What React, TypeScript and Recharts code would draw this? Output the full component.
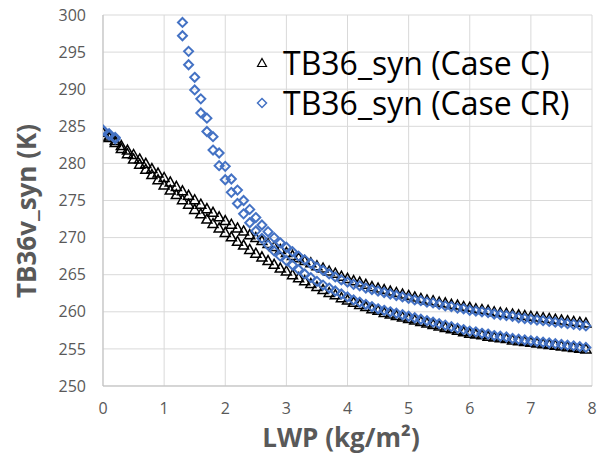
import { ScatterChart, Scatter, XAxis, YAxis, CartesianGrid, Legend, Label } from 'recharts';

// LWP grid (kg/m2) for Case C, both branches
const lwpC = [
  0, 0.1, 0.2, 0.3, 0.4, 0.5, 0.6, 0.7, 0.8, 0.9,
  1, 1.1, 1.2, 1.3, 1.4, 1.5, 1.6, 1.7, 1.8, 1.9,
  2, 2.1, 2.2, 2.3, 2.4, 2.5, 2.6, 2.7, 2.8, 2.9,
  3, 3.1, 3.2, 3.3, 3.4, 3.5, 3.6, 3.7, 3.8, 3.9,
  4, 4.1, 4.2, 4.3, 4.4, 4.5, 4.6, 4.7, 4.8, 4.9,
  5, 5.1, 5.2, 5.3, 5.4, 5.5, 5.6, 5.7, 5.8, 5.9,
  6, 6.1, 6.2, 6.3, 6.4, 6.5, 6.6, 6.7, 6.8, 6.9,
  7, 7.1, 7.2, 7.3, 7.4, 7.5, 7.6, 7.7, 7.8, 7.9,
];

const tbCUpper = [
  284.3, 283.7, 283.1, 282.4, 281.8, 281.2, 280.6, 280.0, 279.3, 278.7,
  278.1, 277.5, 276.9, 276.3, 275.7, 275.1, 274.5, 273.9, 273.4, 272.8,
  272.3, 271.8, 271.3, 270.9, 270.4, 270.0, 269.6, 269.2, 268.8, 268.4,
  268.0, 267.6, 267.3, 266.9, 266.6, 266.2, 265.9, 265.5, 265.2, 264.8,
  264.5, 264.2, 264.0, 263.7, 263.4, 263.2, 263.0, 262.8, 262.6, 262.4,
  262.2, 262.0, 261.8, 261.6, 261.5, 261.3, 261.2, 261.0, 260.9, 260.7,
  260.6, 260.4, 260.3, 260.2, 260.0, 259.9, 259.8, 259.7, 259.6, 259.5,
  259.4, 259.3, 259.2, 259.1, 259.0, 258.9, 258.8, 258.7, 258.6, 258.5,
];

const tbCLower = [
  284.2, 283.5, 282.8, 282.0, 281.3, 280.6, 279.9, 279.2, 278.5, 277.8,
  277.1, 276.4, 275.8, 275.1, 274.5, 273.8, 273.2, 272.5, 271.9, 271.3,
  270.7, 270.1, 269.5, 269.0, 268.4, 267.9, 267.4, 266.9, 266.4, 265.9,
  265.5, 265.0, 264.6, 264.2, 263.8, 263.4, 263.0, 262.6, 262.3, 261.9,
  261.6, 261.3, 261.0, 260.7, 260.4, 260.2, 259.9, 259.7, 259.5, 259.3,
  259.1, 258.9, 258.7, 258.5, 258.3, 258.1, 257.9, 257.7, 257.5, 257.3,
  257.1, 257.0, 256.9, 256.7, 256.6, 256.5, 256.4, 256.2, 256.1, 256.0,
  255.9, 255.8, 255.7, 255.6, 255.5, 255.4, 255.3, 255.2, 255.1, 255.0,
];

// Case CR: points between 0.3 and 1.2 lie above 300 K and are off the chart
const lwpCR = [
  0, 0.1, 0.2,
  1.3, 1.4, 1.5, 1.6, 1.7, 1.8, 1.9,
  2, 2.1, 2.2, 2.3, 2.4, 2.5, 2.6, 2.7, 2.8, 2.9,
  3, 3.1, 3.2, 3.3, 3.4, 3.5, 3.6, 3.7, 3.8, 3.9,
  4, 4.1, 4.2, 4.3, 4.4, 4.5, 4.6, 4.7, 4.8, 4.9,
  5, 5.1, 5.2, 5.3, 5.4, 5.5, 5.6, 5.7, 5.8, 5.9,
  6, 6.1, 6.2, 6.3, 6.4, 6.5, 6.6, 6.7, 6.8, 6.9,
  7, 7.1, 7.2, 7.3, 7.4, 7.5, 7.6, 7.7, 7.8, 7.9,
];

const tbCRUpper = [
  284.5, 284.0, 283.5,
  299.0, 295.1, 291.6, 288.7, 286.1, 283.6, 281.4,
  279.6, 277.9, 276.4, 275.0, 273.8, 272.7, 271.7, 270.8, 270.0, 269.3,
  268.7, 268.1, 267.5, 267.0, 266.5, 266.0, 265.6, 265.1, 264.7, 264.3,
  264.0, 263.7, 263.5, 263.2, 263.0, 262.8, 262.6, 262.4, 262.2, 262.0,
  261.8, 261.6, 261.5, 261.3, 261.2, 261.0, 260.8, 260.7, 260.5, 260.4,
  260.2, 260.1, 260.0, 259.9, 259.7, 259.6, 259.5, 259.4, 259.2, 259.1,
  259.0, 258.9, 258.8, 258.7, 258.6, 258.5, 258.4, 258.3, 258.2, 258.1,
];

const tbCRLower = [
  284.4, 283.8, 283.3,
  297.2, 293.3, 289.9, 286.8, 284.3, 281.8, 279.7,
  277.8, 276.1, 274.6, 273.2, 272.0, 270.9, 269.9, 269.0, 268.2, 267.5,
  266.9, 266.3, 265.7, 265.1, 264.6, 264.1, 263.6, 263.2, 262.8, 262.4,
  262.0, 261.6, 261.3, 261.0, 260.7, 260.4, 260.2, 260.0, 259.8, 259.6,
  259.4, 259.2, 259.0, 258.8, 258.6, 258.4, 258.2, 258.0, 257.8, 257.6,
  257.4, 257.3, 257.1, 257.0, 256.8, 256.7, 256.6, 256.4, 256.3, 256.2,
  256.1, 256.0, 255.9, 255.8, 255.7, 255.6, 255.5, 255.4, 255.3, 255.2,
];

const xTicks = [0, 1, 2, 3, 4, 5, 6, 7, 8];
const yTicks = [250, 255, 260, 265, 270, 275, 280, 285, 290, 295, 300];

const seriesNames = ['TB36_syn (Case C)', 'TB36_syn (Case CR)'];

const toPoints = (xs: number[], ys: number[]) => xs.map((x, i) => ({ x, y: ys[i] }));

const caseCUpper = toPoints(lwpC, tbCUpper);
const caseCLower = toPoints(lwpC, tbCLower);
const caseCRUpper = toPoints(lwpCR, tbCRUpper);
const caseCRLower = toPoints(lwpCR, tbCRLower);

const BLUE = '#4472C4';
const GREY = '#595959';

const Triangle = (props: any) => {
  const { cx, cy } = props;
  if (cx == null || cy == null) return null;
  return (
    <path
      d={`M${cx},${cy - 5}L${cx + 5},${cy + 4}L${cx - 5},${cy + 4}Z`}
      fill="none"
      stroke="#000"
      strokeWidth={1.5}
    />
  );
};

const Diamond = (props: any) => {
  const { cx, cy } = props;
  if (cx == null || cy == null) return null;
  return (
    <path
      d={`M${cx},${cy - 4.5}L${cx + 4.5},${cy}L${cx},${cy + 4.5}L${cx - 4.5},${cy}Z`}
      fill="none"
      stroke={BLUE}
      strokeWidth={2}
    />
  );
};

const renderLegend = () => (
  <div style={{ fontFamily: 'Open Sans', fontSize: 32, color: '#000' }}>
    {seriesNames.map((name, i) => (
      <div key={name} style={{ display: 'flex', alignItems: 'center', height: 40 }}>
        <svg width={20} height={20} style={{ marginRight: 11 }}>
          {i === 0 ? (
            <path d="M10,5.5L14.5,13.5L5.5,13.5Z" fill="none" stroke="#000" strokeWidth={1.2} />
          ) : (
            <path d="M10,5.5L14.5,10L10,14.5L5.5,10Z" fill="none" stroke={BLUE} strokeWidth={1.5} />
          )}
        </svg>
        <span style={{ whiteSpace: 'nowrap', lineHeight: '40px' }}>{name}</span>
      </div>
    ))}
  </div>
);

const XTitle = () => (
  <text x={341} y={447} textAnchor="middle" fill={GREY} fontFamily="Open Sans" fontWeight="bold" fontSize={26}>
    LWP (kg/m²)
  </text>
);

const YTitle = () => (
  <text
    x={36}
    y={211}
    transform="rotate(-90, 36, 211)"
    textAnchor="middle"
    fill={GREY}
    fontFamily="Open Sans"
    fontWeight="bold"
    fontSize={26}
  >
    TB36v_syn (K)
  </text>
);

export default function App() {
  const tick = { fill: GREY, fontSize: 16, fontFamily: 'Open Sans' };
  return (
    <div style={{ position: 'absolute', left: 0, top: 0, background: '#fff' }}>
      <ScatterChart width={600} height={455} margin={{ top: 15, right: 8, bottom: 0, left: 0 }}>
        <CartesianGrid stroke="#d9d9d9" strokeWidth={1} />
        <XAxis
          type="number"
          dataKey="x"
          domain={[0, 8]}
          ticks={xTicks}
          interval={0}
          height={69}
          tickSize={0}
          tickMargin={17}
          tickLine={false}
          axisLine={{ stroke: '#bfbfbf' }}
          tick={tick}
          allowDataOverflow
        >
          <Label content={XTitle} />
        </XAxis>
        <YAxis
          type="number"
          dataKey="y"
          domain={[250, 300]}
          ticks={yTicks}
          interval={0}
          width={103}
          tickSize={0}
          tickMargin={17}
          tickLine={false}
          axisLine={{ stroke: '#bfbfbf' }}
          tick={tick}
          allowDataOverflow
        >
          <Label content={YTitle} />
        </YAxis>
        <Legend
          layout="vertical"
          align="center"
          verticalAlign="middle"
          content={renderLegend}
          wrapperStyle={{ left: 252, top: 43, width: 'auto' }}
        />
        <Scatter name={seriesNames[0]} data={caseCUpper} shape={Triangle} isAnimationActive={false} />
        <Scatter name={seriesNames[0] + ' lower'} data={caseCLower} shape={Triangle} isAnimationActive={false} legendType="none" />
        <Scatter name={seriesNames[1]} data={caseCRUpper} shape={Diamond} isAnimationActive={false} />
        <Scatter name={seriesNames[1] + ' lower'} data={caseCRLower} shape={Diamond} isAnimationActive={false} legendType="none" />
      </ScatterChart>
    </div>
  );
}
